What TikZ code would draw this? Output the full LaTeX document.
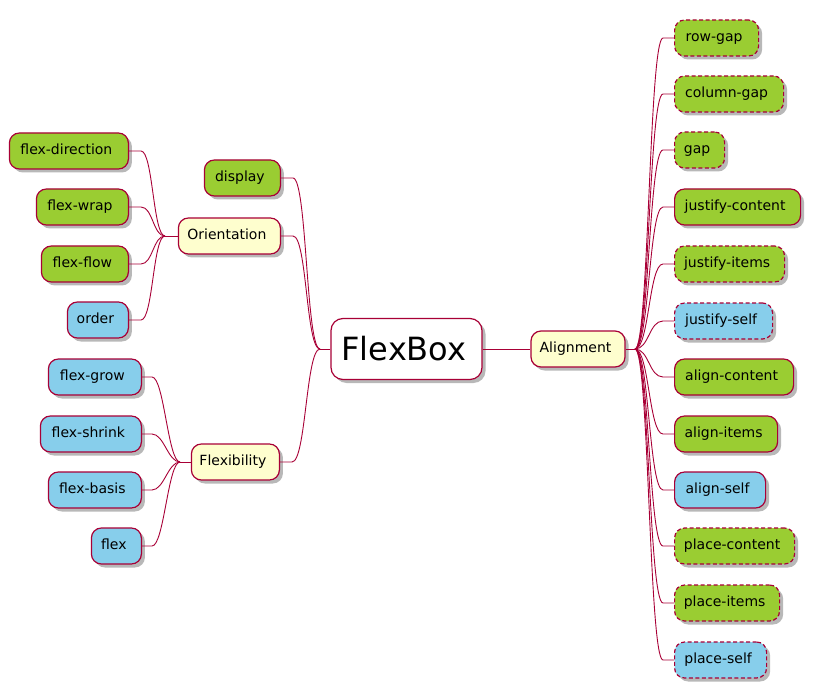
\documentclass[tikz,border=0pt]{standalone}
\usepackage{fontspec}
\setmainfont{DejaVu Sans}
\usetikzlibrary{shadows,calc}
\definecolor{pborder}{HTML}{A80036}
\definecolor{pgreen}{HTML}{9ACD32}
\definecolor{pblue}{HTML}{87CEEB}
\definecolor{pyellow}{HTML}{FEFECE}
\tikzset{
 mm/.style={draw=pborder, line width=1.2pt, rounded corners=10pt, minimum height=36pt, inner sep=0pt,
   text height=10pt, text depth=3pt, font=\fontsize{14}{16}\selectfont,
   execute at end node=\hspace{5pt},
   drop shadow={shadow xshift=3.5pt, shadow yshift=-3.5pt, fill=black, opacity=0.28}},
 grn/.style={mm, fill=pgreen},
 blu/.style={mm, fill=pblue},
 yel/.style={mm, fill=pyellow},
 dsh/.style={dash pattern=on 4pt off 2.5pt},
 conn/.style={draw=pborder, line width=0.9pt},
}
\begin{document}
\begin{tikzpicture}[x=1pt,y=-1pt]
\useasboundingbox (0,0) rectangle (817,695);
% root
\node[mm, fill=white, minimum width=151pt, minimum height=61pt, rounded corners=12pt,
  font=\fontsize{32}{36}\selectfont, text height=23pt, text depth=0pt] (flexbox) at (406.5,349) {FlexBox};
\node[yel, minimum width=94pt] (align) at (578,349) {Alignment};
\node[yel, anchor=east, minimum width=102pt] (orient) at (281,236) {Orientation};
\node[yel, anchor=east, minimum width=88pt] (flexi) at (280,462) {Flexibility};
\node[grn, anchor=east, minimum width=76pt] (display) at (281,178) {display};
% orientation children
\node[grn, anchor=east, minimum width=119pt] (fdir) at (129,151) {flex-direction};
\node[grn, anchor=east, minimum width=92pt] (fwrap) at (129,207) {flex-wrap};
\node[grn, anchor=east, minimum width=87pt] (fflow) at (129,264) {flex-flow};
\node[blu, anchor=east, minimum width=61pt] (order) at (129,320) {order};
% flexibility children
\node[blu, anchor=east, minimum width=93pt] (fgrow) at (142,377) {flex-grow};
\node[blu, anchor=east, minimum width=101pt] (fshrink) at (142,434) {flex-shrink};
\node[blu, anchor=east, minimum width=93pt] (fbasis) at (142,490) {flex-basis};
\node[blu, anchor=east, minimum width=50pt] (flex) at (142,546) {flex};
% alignment children
\node[grn, dsh, anchor=west, minimum width=84pt] (rowgap) at (674,38) {row-gap};
\node[grn, dsh, anchor=west, minimum width=109pt] (colgap) at (674,94) {column-gap};
\node[grn, dsh, anchor=west, minimum width=50pt] (gap) at (674,150) {gap};
\node[grn, anchor=west, minimum width=126pt] (jcont) at (674,207) {justify-content};
\node[grn, dsh, anchor=west, minimum width=110pt] (jitems) at (674,264) {justify-items};
\node[blu, dsh, anchor=west, minimum width=98pt] (jself) at (674,321) {justify-self};
\node[grn, anchor=west, minimum width=119pt] (acont) at (674,377) {align-content};
\node[grn, anchor=west, minimum width=103pt] (aitems) at (674,434) {align-items};
\node[blu, anchor=west, minimum width=91pt] (aself) at (674,490) {align-self};
\node[grn, dsh, anchor=west, minimum width=120pt] (pcont) at (674,546) {place-content};
\node[grn, dsh, anchor=west, minimum width=105pt] (pitems) at (674,603) {place-items};
\node[blu, dsh, anchor=west, minimum width=92pt] (pself) at (674,660) {place-self};
% connectors
\draw[conn] (flexbox.east) -- (align.west);
\coordinate (jA) at (635,349);
\draw[conn] (align.east) -- (jA);
\foreach \n in {rowgap,colgap,gap,jcont,jitems,jself,acont,aitems,aself,pcont,pitems,pself}
  \draw[conn] (jA) .. controls +(14,0) and +(-14,0) .. ([xshift=-11pt]\n.west) -- (\n.west);
\coordinate (jF) at (320,349);
\draw[conn] (flexbox.west) -- (jF);
\foreach \n in {display,orient,flexi}
  \draw[conn] (jF) .. controls +(-14,0) and +(14,0) .. ([xshift=12pt]\n.east) -- (\n.east);
\coordinate (jO) at (165,236);
\draw[conn] (orient.west) -- (jO);
\foreach \n in {fdir,fwrap,fflow,order}
  \draw[conn] (jO) .. controls +(-12,0) and +(12,0) .. ([xshift=12pt]\n.east) -- (\n.east);
\coordinate (jX) at (180,462);
\draw[conn] (flexi.west) -- (jX);
\foreach \n in {fgrow,fshrink,fbasis,flex}
  \draw[conn] (jX) .. controls +(-12,0) and +(12,0) .. ([xshift=10pt]\n.east) -- (\n.east);
\end{tikzpicture}
\end{document}
